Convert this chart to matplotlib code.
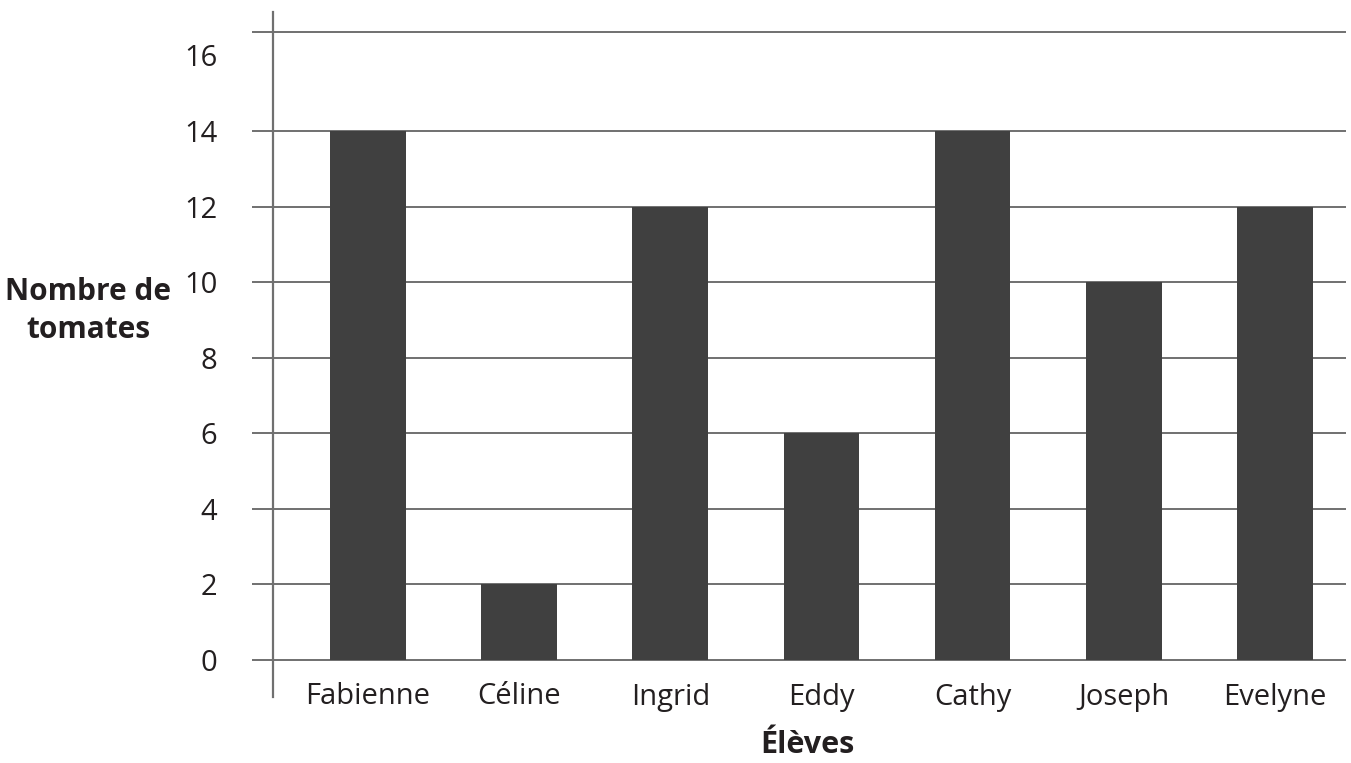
import matplotlib
matplotlib.use("Agg")
import matplotlib.pyplot as plt
from matplotlib.transforms import blended_transform_factory

students = ["Fabienne", "Céline", "Ingrid", "Eddy", "Cathy", "Joseph", "Evelyne"]
tomatoes = [14, 2, 12, 6, 14, 10, 12]
yticks = [0, 2, 4, 6, 8, 10, 12, 14, 16]
grid_values = [0, 2, 4, 6, 8, 10, 12, 14]
top_line = 16.62

plt.rcParams['font.family'] = ['Open Sans', 'DejaVu Sans']

fig = plt.figure(figsize=(13.51, 7.63), dpi=100)
ax = fig.add_axes([273/1351, 66/763, (1346-273)/1351, (697-12)/763])

grid_col = "#707070"
txt_col = "#231f20"
x = list(range(len(students)))
ax.bar(x, tomatoes, width=0.5, color="#404040", zorder=3)

ax.set_xlim(-0.628, 6.47)
ax.set_ylim(-0.98, 17.15)
ax.set_yticks(yticks)
ax.set_yticklabels([str(v) for v in yticks], fontsize=21, color=txt_col)
ax.tick_params(axis='y', length=0, pad=40)

trans = blended_transform_factory(ax.transAxes, ax.transData)
ext = -21/1073
ax.hlines(grid_values + [top_line], ext, 1, transform=trans, colors=grid_col,
          linewidth=1.4, zorder=1, clip_on=False)

ax.set_xticks(x)
ax.set_xticklabels(students, fontsize=21, color=txt_col)
ax.tick_params(axis='x', length=0, pad=0)
for lab in ax.get_xticklabels():
    lab.set_va('center')

for s in ['top', 'right', 'bottom']:
    ax.spines[s].set_visible(False)
ax.spines['left'].set_color(grid_col)
ax.spines['left'].set_linewidth(1.6)

fig.text(807/1351, 1 - 745/763, "Élèves", fontsize=22, fontweight='bold',
         ha='center', va='center', color=txt_col)
fig.text(88/1351, 1 - 311/763, "Nombre de\ntomates", fontsize=21.5, fontweight='bold',
         ha='center', va='center', color=txt_col, linespacing=1.35)

fig.savefig("out.png", dpi=100)
